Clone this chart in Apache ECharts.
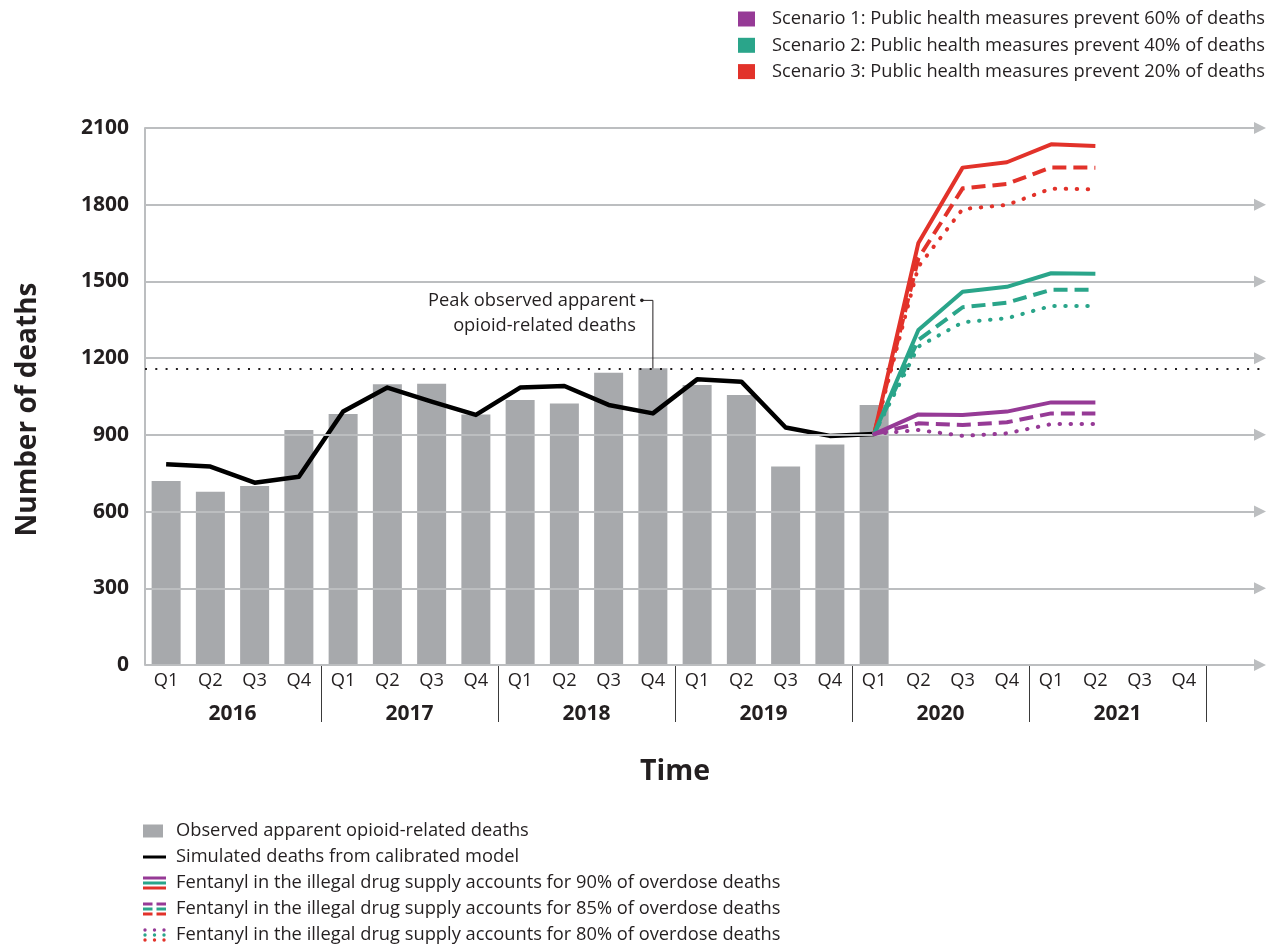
<!DOCTYPE html>
<html><head><meta charset="utf-8">
<script src="https://cdn.jsdelivr.net/npm/echarts@6/dist/echarts.min.js"></script>
<style>html,body{margin:0;padding:0;background:#fff}#c{width:1276px;height:945px}</style>
</head><body><div id="c"></div>
<script>
// ---------- DATA ----------
const years = ['2016', '2017', '2018', '2019', '2020', '2021'];
const quarterNames = ['Q1', 'Q2', 'Q3', 'Q4'];
const yTicks = [0, 300, 600, 900, 1200, 1500, 1800, 2100];
const observed = [720, 678, 700, 919, 982, 1098, 1100, 980, 1036, 1023, 1143, 1160, 1095, 1056, 776, 862, 1017];
const simulated = [785, 776, 713, 736, 991, 1085, 1030, 978, 1085, 1091, 1017, 984, 1117, 1108, 929, 896, 903];
const peakObserved = 1160;
// projections Q2 2020 .. Q2 2021 (start from the last simulated point, Q1 2020)
const s1_90 = [980, 978, 991, 1027, 1027];
const s1_85 = [945, 939, 949, 984, 984];
const s1_80 = [919, 896, 906, 942, 942];
const s2_90 = [1310, 1460, 1479, 1532, 1530];
const s2_85 = [1271, 1399, 1417, 1467, 1467];
const s2_80 = [1245, 1340, 1356, 1404, 1404];
const s3_90 = [1650, 1945, 1966, 2036, 2030];
const s3_85 = [1590, 1864, 1881, 1946, 1945];
const s3_80 = [1558, 1783, 1799, 1863, 1860];
const scenarioNames = [
  'Scenario 1: Public health measures prevent 60% of deaths',
  'Scenario 2: Public health measures prevent 40% of deaths',
  'Scenario 3: Public health measures prevent 20% of deaths'
];
const observedName = 'Observed apparent opioid-related deaths';
const simulatedName = 'Simulated deaths from calibrated model';
const fentanylNames = [
  'Fentanyl in the illegal drug supply accounts for 90% of overdose deaths',
  'Fentanyl in the illegal drug supply accounts for 85% of overdose deaths',
  'Fentanyl in the illegal drug supply accounts for 80% of overdose deaths'
];
const peakLabel = 'Peak observed apparent\nopioid-related deaths';

// ---------- STYLE ----------
const FONT = 'Open Sans';
const FS = 18.3;
const TXT = '#231f20';
const GRID_GRAY = '#bcbec0';
const BAR_GRAY = '#a7a9ac';
const C1 = '#963a96', C2 = '#2aa58a', C3 = '#e2322a';
const DASH = [14, 7];
const DOT = [0.5, 10.5];

const periods = [];
years.forEach(y => quarterNames.forEach(q => periods.push(y + ' ' + q)));
const startIdx = simulated.length - 1;

function proj(arr) {
  return [[periods[startIdx], simulated[startIdx]]].concat(arr.map((v, i) => [periods[startIdx + 1 + i], v]));
}
function projSeries(name, arr, color, type) {
  return {
    name: name, type: 'line', xAxisIndex: 0, yAxisIndex: 0, data: proj(arr),
    symbol: 'none', silent: true, z: 5,
    lineStyle: { color: color, width: 4, type: type, cap: type === DOT ? 'round' : 'butt', join: 'round' }
  };
}
function svgIcon(body) {
  return 'image://data:image/svg+xml;charset=utf-8,' + encodeURIComponent(
    '<svg xmlns="http://www.w3.org/2000/svg" width="24" height="16" viewBox="0 0 24 16">' + body + '</svg>');
}
const rowsY = [1.5, 6.5, 11.5], rowC = [C1, C2, C3];
const iconObserved = svgIcon('<rect x="0" y="1.5" width="20" height="13" fill="' + BAR_GRAY + '"/>');
const iconSim = svgIcon('<rect x="0" y="6.5" width="23" height="3" fill="#000"/>');
const iconSolid = svgIcon(rowsY.map((y, i) => '<rect x="0" y="' + y + '" width="23" height="3" fill="' + rowC[i] + '"/>').join(''));
const iconDash = svgIcon(rowsY.map((y, i) => '<rect x="0" y="' + y + '" width="9.5" height="3" fill="' + rowC[i] + '"/><rect x="13.5" y="' + y + '" width="9.5" height="3" fill="' + rowC[i] + '"/>').join(''));
const iconDot = svgIcon(rowsY.map((y, i) => [2, 11.5, 21].map(x => '<circle cx="' + x + '" cy="' + (y + 1.5) + '" r="1.7" fill="' + rowC[i] + '"/>').join('')).join(''));

const chart = echarts.init(document.getElementById('c'));
const legendText = { fontFamily: FONT, fontSize: FS, color: TXT, lineHeight: 16 };

const option = {
  animation: false,
  backgroundColor: '#fff',
  textStyle: { fontFamily: FONT },
  grid: [
    { left: 144, right: 70, top: 128, bottom: 280 },
    { left: 145, right: 16, top: 128, bottom: 280 }
  ],
  legend: [
    {
      left: 738, top: 10, height: 120, padding: 0, orient: 'vertical', itemWidth: 17, itemHeight: 15, itemGap: 8.3,
      selectedMode: false, textStyle: Object.assign({ padding: [0, 0, 0, 12] }, legendText),
      data: scenarioNames.map((n, i) => ({ name: n, icon: 'rect', itemStyle: { color: rowC[i] } }))
    },
    {
      left: 143, top: 822, height: 140, padding: 0, orient: 'vertical', itemWidth: 24, itemHeight: 16, itemGap: 8,
      selectedMode: false, textStyle: Object.assign({ padding: [0, 0, 0, 4] }, legendText),
      data: [
        { name: observedName, icon: iconObserved },
        { name: simulatedName, icon: iconSim },
        { name: fentanylNames[0], icon: iconSolid },
        { name: fentanylNames[1], icon: iconDash },
        { name: fentanylNames[2], icon: iconDot }
      ]
    }
  ],
  xAxis: [
    {
      gridIndex: 0, type: 'category', data: periods, boundaryGap: true,
      axisLine: { show: false }, axisTick: { show: false },
      axisLabel: { interval: 0, margin: 7, fontFamily: FONT, fontSize: FS, color: TXT, formatter: p => p.split(' ')[1] }
    },
    {
      gridIndex: 0, type: 'category', data: years, position: 'bottom', boundaryGap: true,
      axisLine: { show: false },
      axisTick: { show: true, length: 57, interval: i => i > 0, lineStyle: { color: '#3a3a3a', width: 1 } },
      axisLabel: { interval: 0, margin: 39, fontFamily: FONT, fontSize: 21, fontWeight: 'bold', color: TXT },
      name: 'Time', nameLocation: 'middle', nameGap: 92,
      nameTextStyle: { fontFamily: FONT, fontSize: 28.5, fontWeight: 'bold', color: TXT }
    },
    { gridIndex: 1, type: 'value', min: 0, max: 1, show: false }
  ],
  yAxis: [
    { gridIndex: 0, type: 'value', min: 0, max: 2100, interval: 300, show: false },
    {
      gridIndex: 1, type: 'value', min: 0, max: 2100, interval: 300,
      axisLine: { show: true, lineStyle: { color: GRID_GRAY, width: 2 } },
      axisTick: { show: false }, splitLine: { show: false },
      axisLabel: { margin: 16, fontFamily: FONT, fontSize: 21, fontWeight: 'bold', color: TXT, formatter: v => String(v) },
      name: 'Number of deaths', nameLocation: 'middle', nameGap: 103, nameRotate: 90,
      nameTextStyle: { fontFamily: FONT, fontSize: 28, fontWeight: 'bold', color: TXT, padding: [0, 26, 0, 0] }
    }
  ],
  series: [
    {
      type: 'line', xAxisIndex: 2, yAxisIndex: 1, data: [], silent: true, z: 1,
      markLine: {
        silent: true, symbol: ['none', 'triangle'], symbolSize: [12, 12], animation: false,
        label: { show: false }, emphasis: { disabled: true },
        lineStyle: { color: GRID_GRAY, width: 2, type: 'solid' },
        data: yTicks.map(v => ({ yAxis: v }))
      }
    },
    {
      type: 'line', xAxisIndex: 2, yAxisIndex: 1, data: [], silent: true, z: 2,
      markLine: {
        silent: true, symbol: ['none', 'none'], animation: false,
        label: { show: false }, emphasis: { disabled: true },
        lineStyle: { color: '#231f20', width: 2, type: [2, 8.3] },
        data: [{ yAxis: peakObserved }]
      }
    },
    {
      name: observedName, type: 'bar', xAxisIndex: 0, yAxisIndex: 0, barWidth: 29, z: 2, silent: true,
      itemStyle: { color: BAR_GRAY },
      data: observed.map((v, i) => [periods[i], v])
    },
    {
      name: simulatedName, type: 'line', xAxisIndex: 0, yAxisIndex: 0, symbol: 'none', z: 4, silent: true,
      lineStyle: { color: '#000', width: 4.5, join: 'round' },
      itemStyle: { color: '#000' },
      data: simulated.map((v, i) => [periods[i], v])
    },
    projSeries('s3_90', s3_90, C3, 'solid'),
    projSeries('s3_85', s3_85, C3, DASH),
    projSeries('s3_80', s3_80, C3, DOT),
    projSeries('s2_90', s2_90, C2, 'solid'),
    projSeries('s2_85', s2_85, C2, DASH),
    projSeries('s2_80', s2_80, C2, DOT),
    projSeries('s1_90', s1_90, C1, 'solid'),
    projSeries('s1_85', s1_85, C1, DASH),
    projSeries('s1_80', s1_80, C1, DOT),
    // legend-only entries
    ...scenarioNames.map((n, i) => ({ name: n, type: 'line', xAxisIndex: 0, yAxisIndex: 0, data: [], itemStyle: { color: rowC[i] } })),
    ...fentanylNames.map(n => ({ name: n, type: 'line', xAxisIndex: 0, yAxisIndex: 0, data: [] }))
  ]
};
chart.setOption(option);

// annotation leader to the peak bar
const p = chart.convertToPixel({ xAxisIndex: 0, yAxisIndex: 0 }, [periods[observed.indexOf(peakObserved)], peakObserved]);
const hy = p[1] - 68;
chart.setOption({
  graphic: [
    { type: 'polyline', silent: true, z: 10, shape: { points: [[p[0] - 11, hy], [p[0], hy], [p[0], p[1]]] }, style: { stroke: TXT, lineWidth: 1, fill: null } },
    { type: 'circle', silent: true, z: 10, shape: { cx: p[0] - 11, cy: hy, r: 1.8 }, style: { fill: TXT } },
    { type: 'text', silent: true, z: 10, x: p[0] - 17, y: hy - 12,
      style: { text: peakLabel, align: 'right', verticalAlign: 'top', fontFamily: FONT, fontSize: FS, lineHeight: 25, fill: TXT } }
  ]
});
</script>
</body></html>
